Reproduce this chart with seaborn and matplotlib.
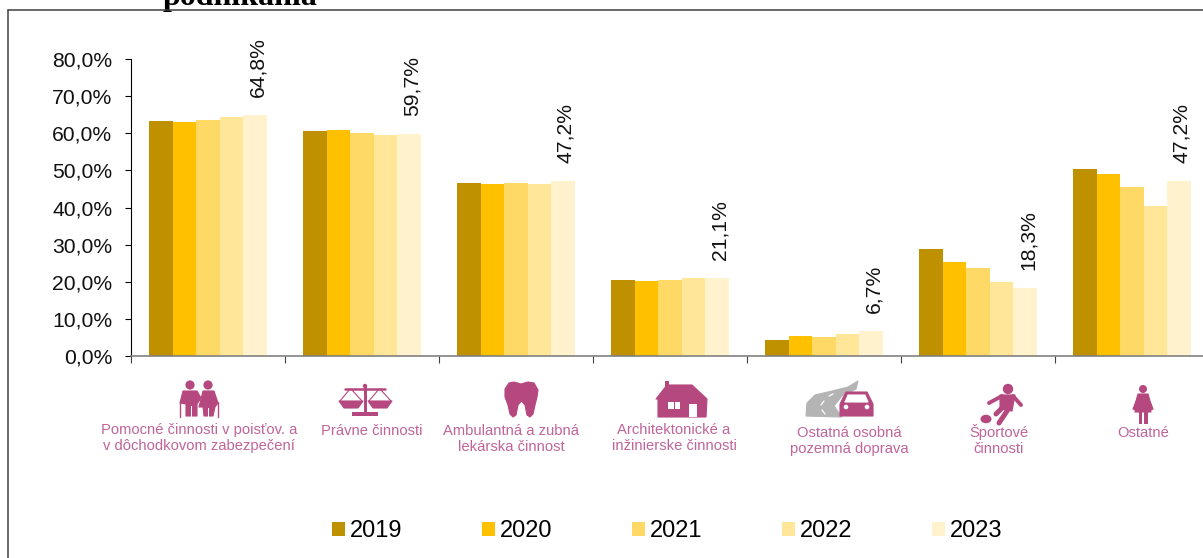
"""Share of women by sector, grouped bars with icon captions."""

import matplotlib

matplotlib.use("Agg")

import matplotlib.pyplot as plt
import pandas as pd
import seaborn as sns
from matplotlib.patches import Circle, Ellipse, Polygon, Rectangle
from matplotlib.ticker import FuncFormatter

# Data
YEARS = ["2019", "2020", "2021", "2022", "2023"]
SECTORS = [
    "Pomocné činnosti",
    "Právne činnosti",
    "Ambulantná a zubná",
    "Architektonické",
    "Ostatná doprava",
    "Športové činnosti",
    "Ostatné",
]
VALUES_2019 = [63.4, 60.7, 46.7, 20.6, 4.4, 28.7, 50.4]
VALUES_2020 = [63.0, 60.9, 46.4, 20.3, 5.3, 25.2, 49.0]
VALUES_2021 = [63.6, 60.2, 46.7, 20.6, 5.0, 23.6, 45.4]
VALUES_2022 = [64.3, 59.5, 46.4, 20.9, 5.8, 20.0, 40.4]
VALUES_2023 = [64.8, 59.7, 47.2, 21.1, 6.7, 18.3, 47.2]
COLORS = ["#BF9000", "#FFC000", "#FFD966", "#FFE699", "#FFF2CC"]
Y_TICKS = [0, 10, 20, 30, 40, 50, 60, 70, 80]
CAPTIONS = [
    ("Pomocné činnosti v poisťov. a\nv dôchodkovom zabezpečení", 199, 438),
    ("Právne činnosti", 372, 431),
    ("Ambulantná a zubná\nlekárska činnost", 511, 439),
    ("Architektonické a\ninžinierske činnosti", 674, 438),
    ("Ostatná osobná\npozemná doprava", 849, 441),
    ("Športové\nčinnosti", 999, 440),
    ("Ostatné", 1143, 433),
]
TITLE_TAIL = "podnikania"

ICON = "#B5487F"
CAPTION = "#C0649A"
ROAD = "#B4B4B4"
W, H = 1203, 558


def fmt_pct(v, _pos=None):
    return f"{v:.1f}".replace(".", ",") + "%"


sns.set_theme(style="white", rc={"text.color": "black"})
plt.rcParams["font.family"] = ["Liberation Sans", "DejaVu Sans"]

df = pd.DataFrame(
    {
        "sector": SECTORS * 5,
        "year": [y for y in YEARS for _ in SECTORS],
        "value": VALUES_2019 + VALUES_2020 + VALUES_2021 + VALUES_2022 + VALUES_2023,
    }
)

fig = plt.figure(figsize=(W / 100, H / 100), dpi=100)
ax = fig.add_axes([131 / W, (H - 356) / H, 1078 / W, 297 / H])

sns.barplot(
    data=df,
    x="sector",
    y="value",
    hue="year",
    palette=COLORS,
    saturation=1,
    width=0.766,
    gap=0,
    linewidth=0,
    ax=ax,
)

ax.set_xlim(-0.5, 6.5)
ax.set_ylim(0, 80)
ax.set_xlabel("")
ax.set_ylabel("")
ax.set_yticks(Y_TICKS)
ax.yaxis.set_major_formatter(FuncFormatter(fmt_pct))
ax.set_xticks([i - 0.5 for i in range(8)])
ax.set_xticklabels([])
ax.tick_params(axis="y", labelsize=15.2, length=4.5, width=0.8, color="black", left=True, pad=9, labelcolor="#111111")
ax.tick_params(axis="x", length=5, width=0.8, color="#404040", bottom=True)
ax.spines[["top", "right"]].set_visible(False)
ax.spines["left"].set_color("black")
ax.spines["left"].set_linewidth(0.8)
ax.spines["bottom"].set_color("#808080")
ax.spines["bottom"].set_linewidth(1.2)

# Only the 2023 bars carry a value
value_labels = ax.bar_label(
    ax.containers[-1],
    labels=[fmt_pct(v) for v in VALUES_2023],
    rotation=90,
    padding=13,
    fontsize=15.2,
    color="#111111",
)
for lab in value_labels:
    lab.xyann = (2, 13)

sns.move_legend(
    ax,
    "center",
    bbox_to_anchor=(667 / W, (H - 531) / H),
    bbox_transform=fig.transFigure,
    ncol=5,
    title=None,
    frameon=False,
    fontsize=17,
    handlelength=0.55,
    handleheight=0.55,
    handletextpad=0.2,
    columnspacing=3.38,
    borderpad=0,
)

# Overlay in pixel coordinates for frame, icons and captions
ov = fig.add_axes([0, 0, 1, 1], zorder=5)
ov.set_xlim(0, W)
ov.set_ylim(H, 0)
ov.axis("off")
ov.patch.set_alpha(0)

ov.plot([8, 8], [10, H], color="#404040", lw=1.1)
ov.plot([8, W], [10, 10], color="#404040", lw=1.1)
fig.text(163 / W, 1 - 5 / H, TITLE_TAIL, family="Liberation Serif", weight="bold", fontsize=23, color="black")

for text, x, y in CAPTIONS:
    ov.text(x, y, text, ha="center", va="center", fontsize=10.6, color=CAPTION, linespacing=1.1)


def poly(points, color=ICON):
    ov.add_patch(Polygon(points, closed=True, fc=color, ec=color, lw=0.8, joinstyle="round"))


def line(points, width=2.0, color=ICON):
    xs, ys = zip(*points)
    ov.plot(xs, ys, color=color, lw=width, solid_capstyle="round")


def disc(x, y, r, color=ICON):
    ov.add_patch(Circle((x, y), r, fc=color, ec="none"))


def box(x0, y0, x1, y1, color=ICON):
    ov.add_patch(Rectangle((x0, y0), x1 - x0, y1 - y0, fc=color, ec="none"))


# elderly couple
disc(190, 385, 4.6)
disc(208, 385, 4.6)
poly([(183, 391), (197, 391), (201, 398), (197, 404), (197, 416), (186, 416), (186, 404), (180, 403)])
poly([(203, 391), (214, 391), (218, 403), (215, 407), (213, 416), (204, 416), (203, 407), (199, 407)])
line([(180, 402), (180, 417)], 1.0)
line([(218, 402), (218, 417)], 1.0)
box(191, 406, 192, 417, "white")
box(208, 408, 209, 417, "white")

# scales
box(352, 412, 378, 416)
box(363.5, 387, 366.5, 412)
disc(365, 386, 2.2)
line([(345, 389), (385, 389)], 1.8)
poly([(339, 401), (363, 401), (358, 408), (344, 408)])
poly([(368, 401), (392, 401), (387, 408), (373, 408)])
line([(350, 389), (340, 401)], 0.8)
line([(351, 389), (362, 401)], 0.8)
line([(379, 389), (369, 401)], 0.8)
line([(380, 389), (391, 401)], 0.8)

# tooth
poly([(509, 383), (514, 382), (521, 384), (528, 382), (534, 383), (538, 390), (537, 397), (535, 405),
      (533, 414), (530, 417), (527, 415), (525, 405), (521.5, 401), (518, 405), (516, 415), (513, 417),
      (510, 414), (508, 405), (505, 397), (505, 389)])

# house
poly([(667, 385), (692, 385), (707, 399), (706, 417), (658, 417), (658, 399), (656, 399)])
box(665, 381, 669, 388)
box(668, 402, 680, 409, "white")
box(673.5, 402, 674.5, 409, ICON)
box(689, 404, 697, 417, "white")

# road and car
poly([(806, 416), (807, 403), (815, 395), (832, 391), (848, 387), (858, 381), (856, 389), (842, 396),
      (834, 406), (842, 417)], ROAD)
line([(824, 401), (821, 405)], 0.9, "white")
line([(822, 410), (825, 414)], 0.9, "white")
line([(833, 394), (829, 396)], 0.9, "white")
poly([(846, 392), (867, 392), (873, 404), (873, 416), (840, 416), (840, 404)])
poly([(848, 395), (865, 395), (868, 402), (845, 402)], "white")
disc(846, 407, 2.3, "white")
disc(867, 407, 2.3, "white")

# football player
disc(1008, 389, 5.2)
poly([(1000, 395), (1015, 395), (1012, 411), (1000, 409)])
line([(1002, 396), (989, 403)], 2.8)
line([(1013, 396), (1021, 405)], 2.8)
line([(1004, 406), (996, 414)], 3.6)
line([(1009, 408), (999, 423)], 3.6)
ov.add_patch(Ellipse((986, 419), 11, 8.5, fc=ICON, ec="none"))

# woman
disc(1143, 389, 4)
poly([(1138, 394), (1148, 394), (1150, 401), (1153, 409), (1151, 410), (1149, 405), (1151, 412),
      (1135, 412), (1137, 405), (1135, 410), (1133, 409), (1136, 401)])
box(1138.5, 412, 1142, 424)
box(1144, 412, 1147.5, 424)

fig.savefig("out.png", dpi=100)
